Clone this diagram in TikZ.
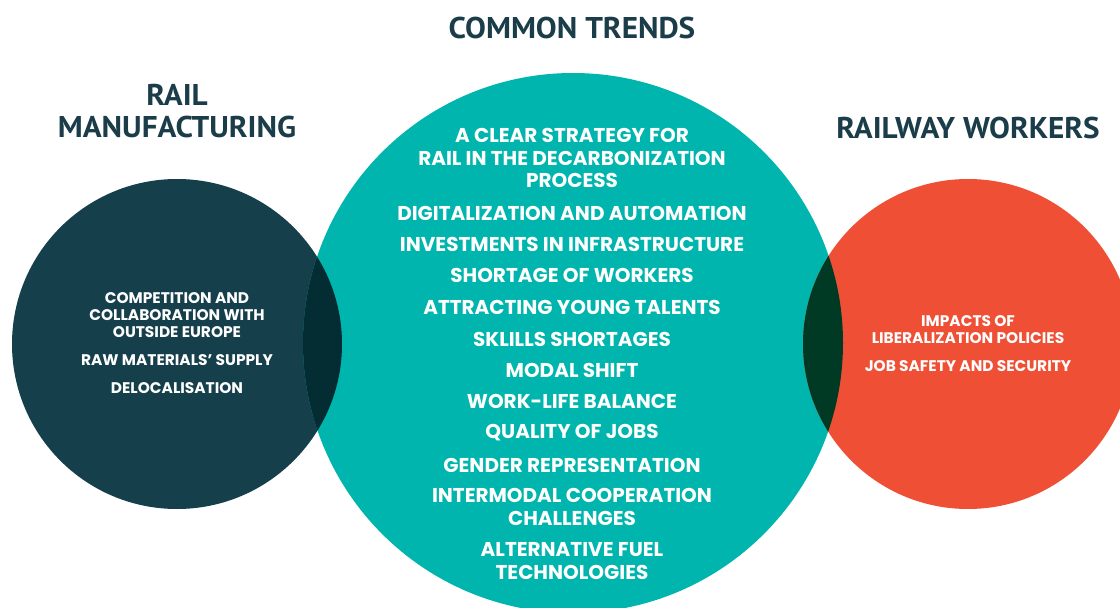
\documentclass[tikz,border=0pt]{standalone}
\usepackage{fontspec}
\newfontfamily\bodyf{Poppins}
\newfontfamily\titlef{PT Sans}
\definecolor{navy}{HTML}{163F4C}
\definecolor{teal}{HTML}{00B5AD}
\definecolor{orng}{HTML}{EF5035}
\definecolor{ovlL}{HTML}{032C33}
\definecolor{ovlR}{HTML}{003A24}
\definecolor{titlec}{HTML}{1B3D4A}
\tikzset{
  ttl/.style={text=titlec, font=\titlef\bfseries\fontsize{30}{33}\selectfont, align=center, xscale=1.04, inner sep=0pt},
  mid/.style={text=white, font=\bodyf\bfseries\fontsize{20}{22.5}\selectfont, align=center, inner sep=0pt},
  sideL/.style={text=white, font=\bodyf\bfseries\fontsize{15.4}{17}\selectfont, align=center, inner sep=0pt},
  sideR/.style={text=white, font=\bodyf\bfseries\fontsize{15.4}{17}\selectfont, align=center, inner sep=0pt},
}
\begin{document}
\begin{tikzpicture}[x=1pt,y=-1pt]
\useasboundingbox (0,0) rectangle (1120,608);
\clip (0,0) rectangle (1120,608);
\fill[white] (0,0) rectangle (1120,608);
% circles
\fill[navy] (177,344) circle[radius=165pt];
\fill[teal] (573,343) circle[radius=270pt];
\fill[orng] (968,344) circle[radius=165pt];
\begin{scope}
  \clip (177,344) circle[radius=165pt];
  \fill[ovlL] (573,343) circle[radius=270pt];
\end{scope}
\begin{scope}
  \clip (968,344) circle[radius=165pt];
  \fill[ovlR] (573,343) circle[radius=270pt];
\end{scope}
% titles
\node[ttl] (tC) at (572,28) {COMMON TRENDS};
\node[ttl] (tL) at (177,111) {RAIL\\[-1pt]MANUFACTURING};
\node[ttl] (tR) at (968,128) {RAILWAY WORKERS};
% middle items
\node[mid] (m1) at (572,158) {A CLEAR STRATEGY FOR\\RAIL IN THE DECARBONIZATION\\PROCESS};
\node[mid] (m2) at (572,213) {DIGITALIZATION AND AUTOMATION};
\node[mid] (m3) at (572,244) {INVESTMENTS IN INFRASTRUCTURE};
\node[mid] (m4) at (572,275) {SHORTAGE OF WORKERS};
\node[mid] (m5) at (572,307) {ATTRACTING YOUNG TALENTS};
\node[mid] (m6) at (572,339) {SKLILLS SHORTAGES};
\node[mid] (m7) at (572,370) {MODAL SHIFT};
\node[mid] (m8) at (572,401) {WORK-LIFE BALANCE};
\node[mid] (m9) at (572,433) {QUALITY OF JOBS};
\node[mid] (m10) at (572,465) {GENDER REPRESENTATION};
\node[mid] (m11) at (572,507) {INTERMODAL COOPERATION\\CHALLENGES};
\node[mid] (m12) at (572,561) {ALTERNATIVE FUEL\\TECHNOLOGIES};
% left items
\node[sideL] (l1) at (177,315) {COMPETITION AND\\COLLABORATION WITH\\OUTSIDE EUROPE};
\node[sideL] (l2) at (177,360) {RAW MATERIALS’ SUPPLY};
\node[sideL] (l3) at (177,388) {DELOCALISATION};
% right items
\node[sideR] (r1) at (968,329.5) {IMPACTS OF\\LIBERALIZATION POLICIES};
\node[sideR] (r2) at (968,366) {JOB SAFETY AND SECURITY};
\end{tikzpicture}
\end{document}
